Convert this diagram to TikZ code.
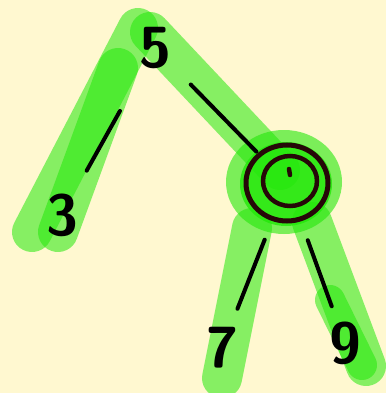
\documentclass[tikz,border=0pt]{standalone}
\usepackage{tikz}
\usetikzlibrary{positioning, shapes.geometric}
\definecolor{paper}{RGB}{255,248,208}
\definecolor{marker}{RGB}{35,232,10}
\definecolor{ink}{RGB}{38,8,8}
\tikzset{
	digit/.style={font=\sffamily\bfseries\fontsize{58}{58}\selectfont, inner sep=0pt}
}
\tikzset{
	edge/.style={line width=4pt, line cap=round, black},
	glow/.style={line width=40pt, line cap=round, marker, opacity=0.55}
}

\begin{document}
\begin{tikzpicture}[x=1pt,y=-1pt]
      \useasboundingbox (0,0) rectangle (386,393);
      \fill[paper] (0,0) rectangle (386,393);
      % marker strokes behind the tree
      \draw[glow] (138,28) -- (32,232);
      \draw[glow] (118,68) -- (58,232);
      \draw[glow] (150,32) -- (280,170);
      \fill[marker, opacity=0.6] (284,182) ellipse (58 and 52);
      \fill[marker, opacity=0.8] (286,184) ellipse (46 and 42);
      \draw[glow] (252,228) -- (222,378);
      \draw[glow] (312,222) -- (366,366);
      \draw[glow, line width=30pt] (330,300) -- (362,365);
      % tree
      \node[digit] (five) at (155,48) {5};
      \node[digit] (three) at (62,215) {3};
      \node[ellipse, draw=ink, line width=5pt, minimum width=82pt, minimum height=76pt] (mid) at (287,183) {};
      \draw[line width=4.5pt, ink] (mid) ++(3,-2) ellipse (27 and 25);
      \draw[line width=4.5pt, ink, line cap=round] (mid) ++(2,-14) -- ++(1,6);
      \node[digit] (seven) at (222,348) {7};
      \node[digit] (nine) at (345,343) {9};
      \draw[edge, shorten <=48pt, shorten >=26pt] (five) -- (three);
      \draw[edge, shorten <=28pt, shorten >=2pt] (five) -- (mid);
      \draw[edge, shorten <=20pt, shorten >=20pt] (mid) -- (seven);
      \draw[edge, shorten <=20pt, shorten >=16pt] (mid) -- (nine);
    \end{tikzpicture}
\end{document}
